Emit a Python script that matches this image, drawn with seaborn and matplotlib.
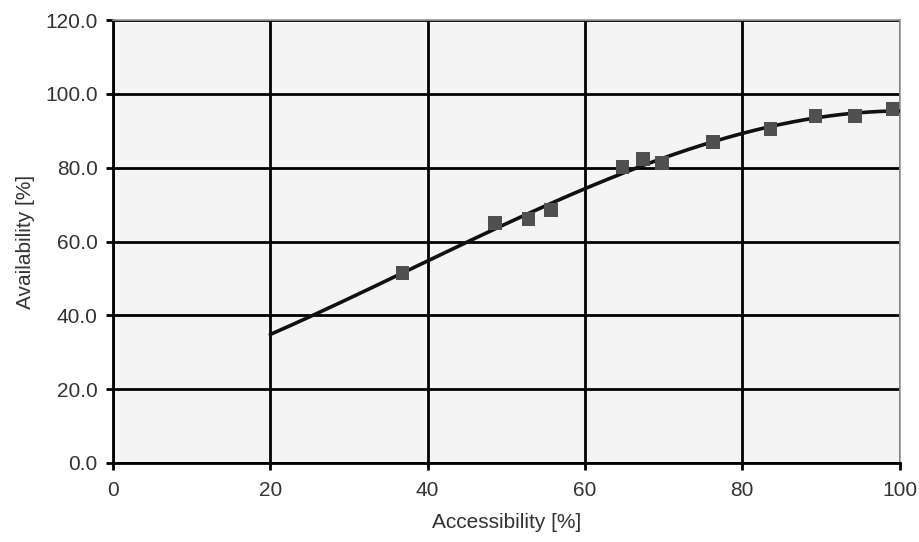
import numpy as np
import pandas as pd
import matplotlib
matplotlib.use("Agg")
import matplotlib.pyplot as plt
import seaborn as sns

# data
accessibility = [36.8, 48.6, 52.8, 55.7, 64.8, 67.4, 69.8, 76.3, 83.6, 89.3, 94.3, 99.1]
availability = [51.5, 65.0, 66.1, 68.6, 80.2, 82.4, 81.3, 87.0, 90.5, 94.0, 94.0, 95.9]
x_ticks = [0, 20, 40, 60, 80, 100]
y_ticks = [0, 20, 40, 60, 80, 100, 120]

df = pd.DataFrame({"acc": accessibility, "avail": availability})

sns.set_theme(style="white")
plt.rcParams["font.family"] = ["Liberation Sans", "DejaVu Sans"]

fig = plt.figure(figsize=(9.2, 5.42), dpi=100)
ax = fig.add_axes([0.1228, 0.1458, 0.855, 0.817])
ax.set_facecolor("#f4f4f4")

# polynomial trendline (order 3) from x=20 to 100
coef = np.polyfit(df["acc"], df["avail"], 3)
xs = np.linspace(20, 100, 200)
ax.plot(xs, np.polyval(coef, xs), color="#111111", lw=2.6, zorder=3)

sns.scatterplot(data=df, x="acc", y="avail", marker="s", s=95, color="#505050",
                edgecolor="none", ax=ax, zorder=4)

ax.set_xlim(0, 100)
ax.set_ylim(0, 120)
ax.set_xticks(x_ticks)
ax.set_yticks(y_ticks)
ax.set_yticklabels([f"{v:.1f}" for v in y_ticks])
ax.grid(True, color="black", lw=2)
ax.set_axisbelow(True)

for s in ["top", "right"]:
    ax.spines[s].set_color("#999999")
    ax.spines[s].set_linewidth(1.2)
for s in ["left", "bottom"]:
    ax.spines[s].set_color("black")
    ax.spines[s].set_linewidth(2)

ax.tick_params(axis="both", direction="out", length=5, width=2, color="black",
               labelsize=15, labelcolor="#333333", bottom=True, left=True)
ax.tick_params(axis="x", pad=8)
ax.tick_params(axis="y", pad=6)
ax.set_xlabel("Accessibility [%]", fontsize=15, color="#333333", labelpad=9)
ax.set_ylabel("Availability [%]", fontsize=15, color="#333333", labelpad=7)

fig.savefig("out.png", dpi=100)
